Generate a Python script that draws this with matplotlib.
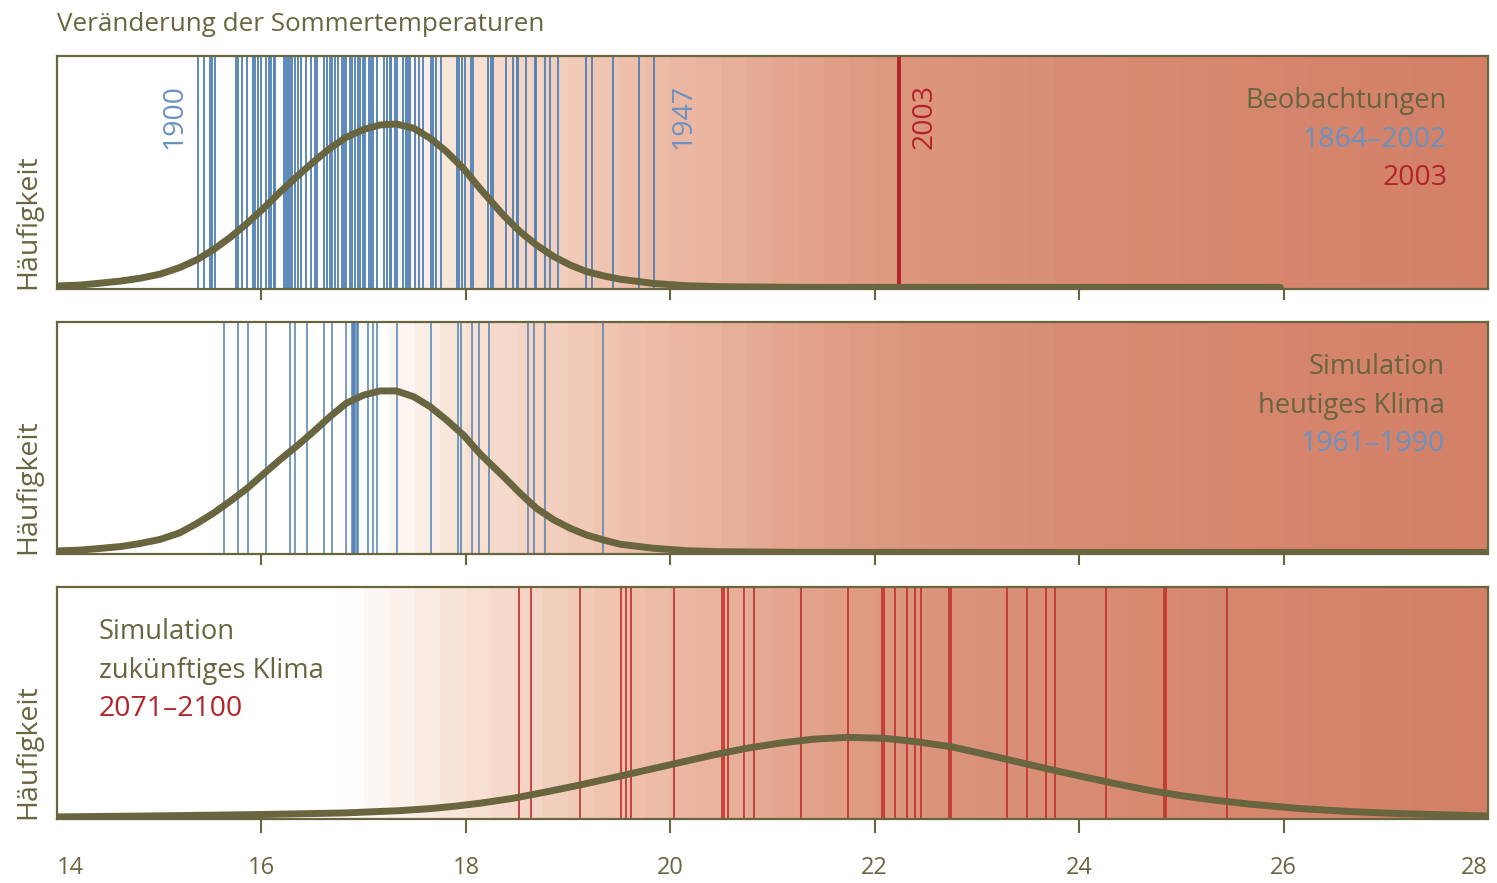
import numpy as np
import matplotlib.pyplot as plt
from matplotlib.transforms import blended_transform_factory

plt.rcParams['font.family'] = ['Open Sans', 'DejaVu Sans']

# Beobachtungen 1864-2002, Sommertemperatur je Jahr (Grad C)
obs_temps = [15.38, 15.44, 15.50, 15.52, 15.55, 15.75, 15.77, 15.81, 15.86, 15.92,
             15.94, 15.97, 16.00, 16.04, 16.07, 16.09, 16.12, 16.13, 16.22, 16.24,
             16.26, 16.28, 16.30, 16.33, 16.36, 16.39, 16.44, 16.48, 16.52, 16.54,
             16.61, 16.64, 16.67, 16.69, 16.72, 16.75, 16.79, 16.81, 16.83, 16.87,
             16.89, 16.92, 16.94, 16.96, 16.99, 17.01, 17.05, 17.07, 17.09, 17.13,
             17.20, 17.23, 17.26, 17.27, 17.31, 17.33, 17.38, 17.41, 17.43, 17.45,
             17.50, 17.54, 17.58, 17.66, 17.68, 17.71, 17.76, 17.91, 17.93, 17.96,
             17.99, 18.05, 18.07, 18.22, 18.25, 18.27, 18.39, 18.46, 18.50, 18.51,
             18.59, 18.68, 18.69, 18.77, 18.82, 18.90, 19.18, 19.23, 19.44, 19.69,
             19.84]
temp_2003 = 22.24

# Simulation heutiges Klima 1961-1990
sim_now_temps = [15.63, 15.77, 15.87, 16.04, 16.28, 16.33, 16.45, 16.61, 16.69, 16.83,
                 16.89, 16.90, 16.91, 16.92, 16.93, 16.94, 17.04, 17.09, 17.13, 17.33,
                 17.66, 17.92, 17.95, 18.06, 18.13, 18.23, 18.61, 18.67, 18.77, 19.34]

# Simulation zukuenftiges Klima 2071-2100
sim_future_temps = [18.52, 18.64, 19.12, 19.52, 19.57, 19.62, 20.04, 20.51, 20.53, 20.56,
                    20.72, 20.82, 21.28, 21.74, 22.07, 22.09, 22.20, 22.32, 22.39, 22.45,
                    22.73, 22.75, 23.29, 23.49, 23.68, 23.76, 24.26, 24.83, 24.85, 25.45]

# Haeufigkeitskurven (relativ)
obs_curve_t = [14.00, 14.23, 14.42, 14.62, 14.81, 15.01, 15.20, 15.37, 15.53, 15.69,
               15.86, 16.02, 16.18, 16.35, 16.51, 16.67, 16.83, 17.00, 17.16, 17.32,
               17.49, 17.65, 17.81, 17.98, 18.14, 18.37, 18.53, 18.69, 18.86,
               19.02, 19.18, 19.35, 19.51, 19.83, 20.16, 20.49, 21.27, 25.97]
obs_curve_h = [0.013, 0.017, 0.025, 0.034, 0.046, 0.064, 0.092, 0.126, 0.169, 0.220,
               0.282, 0.346, 0.415, 0.484, 0.546, 0.604, 0.651, 0.685, 0.704, 0.708,
               0.690, 0.647, 0.590, 0.515, 0.430, 0.315, 0.246, 0.189, 0.139,
               0.103, 0.075, 0.056, 0.042, 0.024, 0.014, 0.010, 0.007, 0.007]

now_curve_t = [14.00, 14.23, 14.42, 14.62, 14.81, 15.01, 15.20, 15.37, 15.53, 15.69,
               15.86, 16.02, 16.18, 16.35, 16.51, 16.67, 16.83, 17.00, 17.16, 17.32,
               17.49, 17.65, 17.81, 17.98, 18.14, 18.37, 18.53, 18.69, 18.86, 19.02,
               19.18, 19.35, 19.51, 19.83, 20.16, 20.49, 21.27, 28.00]
now_curve_h = [0.013, 0.017, 0.024, 0.032, 0.045, 0.063, 0.091, 0.132, 0.176, 0.226,
               0.283, 0.345, 0.406, 0.467, 0.528, 0.592, 0.650, 0.685, 0.703, 0.703,
               0.678, 0.635, 0.578, 0.511, 0.431, 0.333, 0.262, 0.197, 0.147, 0.111,
               0.082, 0.060, 0.042, 0.025, 0.014, 0.010, 0.007, 0.007]

fut_curve_t = [14.00, 14.91, 15.97, 16.81, 17.36, 17.66, 17.89, 18.14, 18.46, 18.79,
               19.12, 19.44, 19.77, 20.10, 20.42, 20.75, 21.07, 21.40, 21.73, 22.09,
               22.41, 22.74, 23.06, 23.39, 23.71, 24.04, 24.37, 24.69, 25.02, 25.35,
               25.67, 26.16, 26.65, 27.14, 28.00]
fut_curve_h = [0.009, 0.013, 0.019, 0.026, 0.036, 0.045, 0.055, 0.068, 0.089, 0.117,
               0.147, 0.178, 0.211, 0.244, 0.276, 0.305, 0.327, 0.344, 0.352, 0.348,
               0.333, 0.312, 0.281, 0.247, 0.214, 0.182, 0.151, 0.123, 0.099, 0.080,
               0.064, 0.045, 0.032, 0.023, 0.013]

OLIVE = '#69653f'
BLUE = '#6a93c2'
LINE_BLUE = '#4f80b5'
RED = '#b3242a'


def background(ax, t_white):
    # stufiger Farbverlauf weiss -> lachs
    stops_t = [t_white, 18.0, 19.0, 20.0, 21.0, 22.0, 24.0, 28.0]
    stops_c = np.array([(255, 255, 255), (248, 226, 214), (242, 204, 186),
                        (236, 186, 165), (229, 168, 145), (222, 153, 129),
                        (217, 140, 116), (211, 128, 103)]) / 255
    edges = np.arange(14, 28.001, 0.25)
    mids = (edges[:-1] + edges[1:]) / 2
    img = np.stack([np.interp(mids, stops_t, stops_c[:, k]) for k in range(3)], axis=-1)
    ax.imshow(img[np.newaxis], extent=[14, 28, 0, 1], aspect='auto',
              interpolation='nearest', zorder=0)


def style(ax, labels=False):
    ax.set_xlim(14, 28)
    ax.set_ylim(0, 1)
    ax.set_yticks([])
    for s in ax.spines.values():
        s.set_color(OLIVE)
        s.set_linewidth(1.6)
    if labels:
        ax.set_xticks(range(14, 29, 2))
        ax.tick_params(axis='x', direction='out', length=10, width=1.5,
                       color=OLIVE, labelcolor=OLIVE, labelsize=17, pad=17)
        ticks = ax.xaxis.get_major_ticks()
        ticks[0].tick1line.set_visible(False)
        ticks[-1].tick1line.set_visible(False)
        lbls = ax.get_xticklabels()
        lbls[0].set_ha('left')
        lbls[-1].set_ha('right')
    else:
        ax.set_xticks(range(16, 27, 2))
        ax.tick_params(axis='x', direction='out', length=8, width=1.5,
                       color=OLIVE, labelbottom=False)
    trans = blended_transform_factory(ax.transAxes, ax.transAxes)
    ax.text(-0.0203, 0, 'Häufigkeit', rotation=90, ha='center', va='bottom',
            fontsize=20.5, color=OLIVE, transform=trans)


fig = plt.figure(figsize=(14.97, 8.83), dpi=100)
ax1 = fig.add_axes([0.0381, 0.6727, 0.9559, 0.2639])
ax2 = fig.add_axes([0.0381, 0.3726, 0.9559, 0.2627])
ax3 = fig.add_axes([0.0381, 0.0725, 0.9559, 0.2627])

# oben: Beobachtungen
background(ax1, 17.1)
for t in obs_temps:
    ax1.axvline(t, color=LINE_BLUE, lw=1.3, zorder=1)
ax1.axvline(temp_2003, color=RED, lw=2.8, zorder=1)
ax1.plot(obs_curve_t, obs_curve_h, color=OLIVE, lw=5, solid_capstyle='round',
         solid_joinstyle='round', zorder=3)
ax1.text(15.15, 0.88, '1900', rotation=90, ha='center', va='top', fontsize=20.5, color=BLUE)
ax1.text(20.13, 0.88, '1947', rotation=90, ha='center', va='top', fontsize=20.5, color=BLUE)
ax1.text(22.49, 0.88, '2003', rotation=90, ha='center', va='top', fontsize=20.5, color=RED)
ax1.text(27.60, 0.777, 'Beobachtungen', ha='right', va='baseline', fontsize=19.7, color=OLIVE)
ax1.text(27.60, 0.609, '1864–2002', ha='right', va='baseline', fontsize=20.5, color=BLUE)
ax1.text(27.60, 0.446, '2003', ha='right', va='baseline', fontsize=20.5, color=RED)
style(ax1)

# Mitte: Simulation heute
background(ax2, 17.1)
for t in sim_now_temps:
    ax2.axvline(t, color=LINE_BLUE, lw=1.2, alpha=0.9, zorder=1)
ax2.plot(now_curve_t, now_curve_h, color=OLIVE, lw=5, solid_capstyle='round',
         solid_joinstyle='round', zorder=3)
ax2.text(27.58, 0.776, 'Simulation', ha='right', va='baseline', fontsize=19.7, color=OLIVE)
ax2.text(27.58, 0.608, 'heutiges Klima', ha='right', va='baseline', fontsize=19.7, color=OLIVE)
ax2.text(27.58, 0.444, '1961–1990', ha='right', va='baseline', fontsize=20.5, color=BLUE)
style(ax2)

# unten: Simulation Zukunft
background(ax3, 16.8)
for t in sim_future_temps:
    ax3.axvline(t, color='#bf2f2a', lw=1.2, zorder=1)
ax3.plot(fut_curve_t, fut_curve_h, color=OLIVE, lw=5, solid_capstyle='round',
         solid_joinstyle='round', zorder=3)
ax3.text(14.41, 0.776, 'Simulation', ha='left', va='baseline', fontsize=19.7, color=OLIVE)
ax3.text(14.41, 0.608, 'zukünftiges Klima', ha='left', va='baseline', fontsize=19.7, color=OLIVE)
ax3.text(14.41, 0.444, '2071–2100', ha='left', va='baseline', fontsize=20.5, color=RED)
style(ax3, labels=True)

fig.text(57 / 1497, 1 - 31 / 883, 'Veränderung der Sommertemperaturen', ha='left',
         va='baseline', fontsize=18.7, color=OLIVE)

fig.savefig('out.png', dpi=100)
